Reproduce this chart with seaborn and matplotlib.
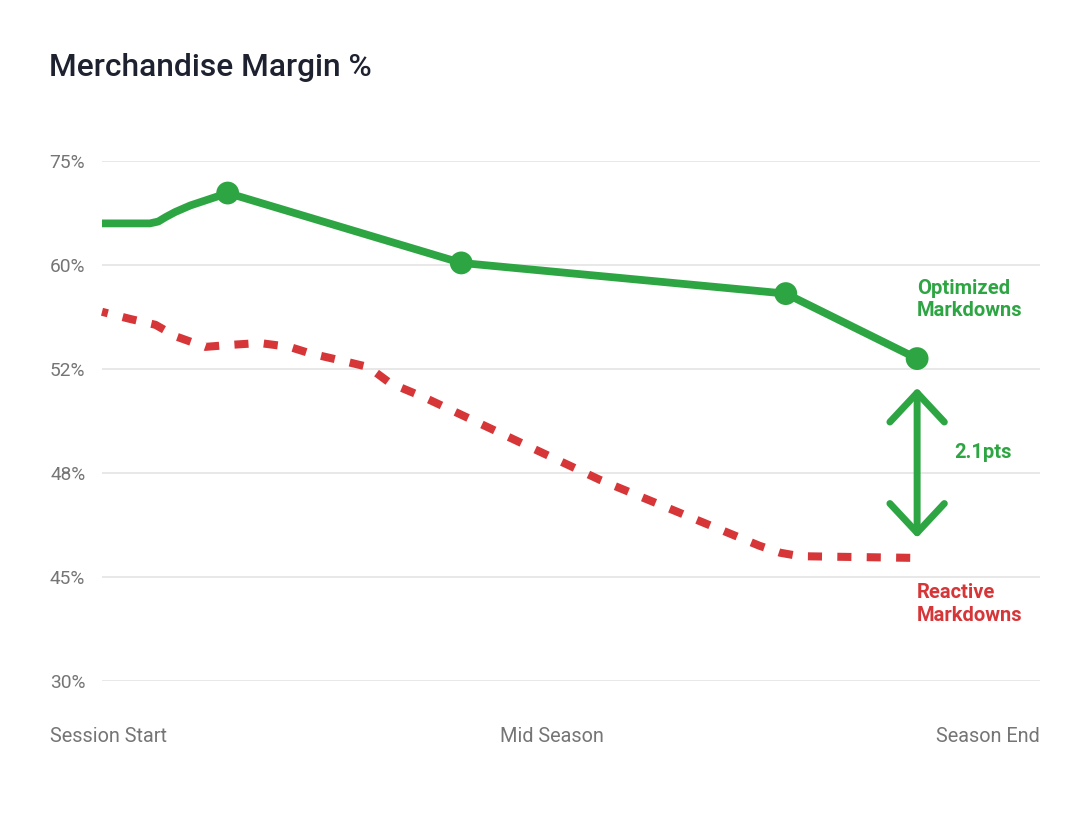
import numpy as np
import matplotlib
matplotlib.use("Agg")
import matplotlib.pyplot as plt
from matplotlib.ticker import NullLocator
import seaborn as sns

# gridlines are evenly spaced at these (uneven) values
y_ticks = [30, 45, 48, 52, 60, 75]
y_tick_labels = ["30%", "45%", "48%", "52%", "60%", "75%"]

# x = % of season elapsed
opt_x = [0, 5.1, 6.0, 6.8, 7.8, 9.4, 13.4, 38.3, 72.9, 86.9]
opt_y = [66.0, 66.0, 66.27, 66.92, 67.64, 68.58, 70.38, 60.3, 57.8, 52.8]
opt_marked = [False, False, False, False, False, False, True, True, True, True]

react_x = [0, 3.0, 5.7, 7.9, 11.0, 13.6, 16.8, 20.0, 22.2, 26.4, 28.4,
           30.7, 34.4, 53.1, 70.1, 72.3, 74.4, 86.9]
react_y = [56.4, 55.85, 55.4, 54.5, 53.7, 53.85, 54.0, 53.7, 53.2, 52.5,
           52.15, 51.46, 50.9, 47.8, 45.9, 45.7, 45.6, 45.55]

x_labels = ["Session Start", "Mid Season", "Season End"]
series_labels = ["Optimized\nMarkdowns", "Reactive\nMarkdowns"]
gap_label = "2.1pts"
title = "Merchandise Margin %"

GREEN = "#2ea543"
RED = "#d63638"
GREY = "#757575"

sns.set_style("white")
plt.rcParams["font.family"] = ["Roboto", "DejaVu Sans"]

fig = plt.figure(figsize=(10.88, 8.36), dpi=100)
ax = fig.add_axes([102 / 1088, 1 - 681 / 836, 938 / 1088, 520 / 836])

pos = np.arange(len(y_ticks))


def fwd(v):
    return np.interp(v, y_ticks, pos)


def inv(p):
    return np.interp(p, pos, y_ticks)


ax.set_yscale("function", functions=(fwd, inv))
ax.set_ylim(30, 75)
ax.set_xlim(0, 100)

sns.lineplot(x=react_x, y=react_y, color=RED, lw=5.8, ax=ax,
             linestyle=(1.0, (1.75, 1.9)), dash_capstyle="butt", clip_on=False)
sns.lineplot(x=opt_x, y=opt_y, color=GREEN, lw=5.6, ax=ax,
             solid_capstyle="butt", solid_joinstyle="round", clip_on=False)
mx = [x for x, m in zip(opt_x, opt_marked) if m]
my = [y for y, m in zip(opt_y, opt_marked) if m]
sns.scatterplot(x=mx, y=my, color=GREEN, s=270, edgecolor="none",
                ax=ax, zorder=4, clip_on=False)

# gap arrow
ax.annotate("", xy=(opt_x[-1], react_y[-1]), xytext=(opt_x[-1], opt_y[-1]),
            arrowprops=dict(arrowstyle="<->,head_length=1.05,head_width=0.98",
                            mutation_scale=20, lw=5, color=GREEN,
                            shrinkA=21, shrinkB=14.5,
                            capstyle="round", joinstyle="round"))
mid = inv((fwd(opt_y[-1]) + fwd(react_y[-1])) / 2)
ax.annotate(gap_label, xy=(opt_x[-1], mid), xytext=(27, 4),
            textcoords="offset points", ha="left", va="center",
            fontsize=14.5, fontweight="bold", color=GREEN)

ax.annotate(series_labels[0], xy=(opt_x[-1], opt_y[-1]), xytext=(0, 42.5),
            textcoords="offset points", ha="left", va="center",
            fontsize=14.5, fontweight="bold", color=GREEN, linespacing=1.25)
ax.annotate(series_labels[1], xy=(react_x[-1], react_y[-1]), xytext=(0, -33),
            textcoords="offset points", ha="left", va="center",
            fontsize=14.5, fontweight="bold", color=RED, linespacing=1.25)

ax.set_yticks(y_ticks, y_tick_labels)
ax.yaxis.set_minor_locator(NullLocator())
ax.set_xticks([])
ax.tick_params(axis="y", length=0, pad=12, labelsize=13.8, labelcolor=GREY)
ax.grid(axis="y", color="#e6e6e6", lw=1.3)
ax.set_axisbelow(True)
sns.despine(ax=ax, left=True, bottom=True)

fig.text(49 / 1088, 1 - 68 / 836, title, fontsize=22.9, fontweight="medium",
         color="#1e2230", va="center", ha="left")

ly = 1 - 737 / 836
fig.text(50 / 1088, ly, x_labels[0], ha="left", va="center", fontsize=14.3, color=GREY)
fig.text(552 / 1088, ly, x_labels[1], ha="center", va="center", fontsize=14.3, color=GREY)
fig.text(1040 / 1088, ly, x_labels[2], ha="right", va="center", fontsize=14.3, color=GREY)

fig.savefig("out.png", dpi=100)
